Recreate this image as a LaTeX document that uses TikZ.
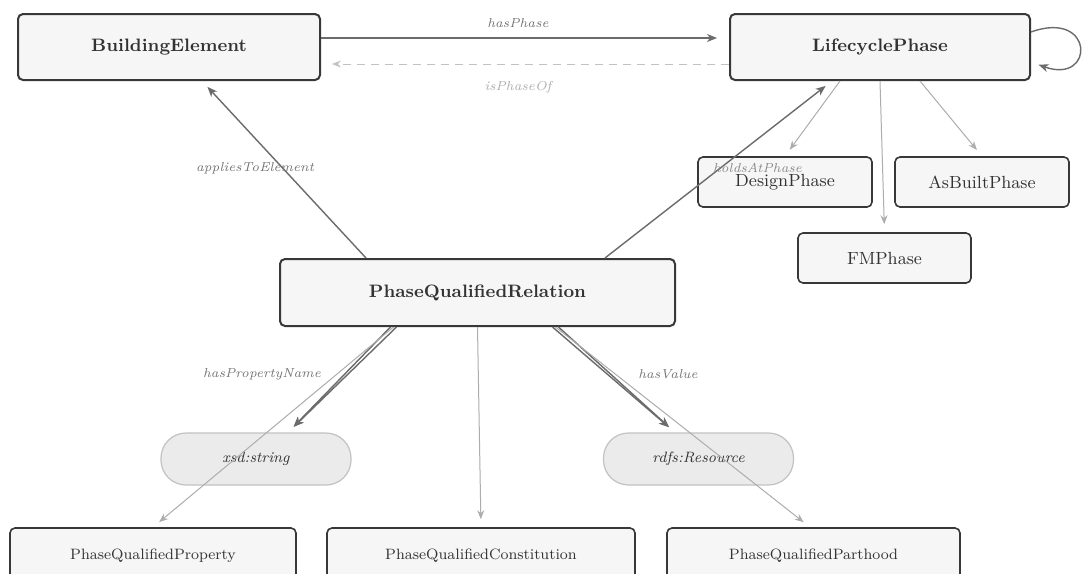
\documentclass[tikz,border=0pt]{standalone}
\usepackage{tikz}
\usetikzlibrary{arrows.meta, positioning, calc}
\definecolor{boxBorder}{gray}{0.22}
\definecolor{boxFill}{gray}{0.965}
\definecolor{mainText}{gray}{0.2}
\definecolor{edgeDark}{gray}{0.42}
\definecolor{edgeLight}{gray}{0.68}
\definecolor{labelGray}{gray}{0.45}
\definecolor{pillFill}{gray}{0.92}
\definecolor{pillBorder}{gray}{0.76}

\begin{document}
\begin{tikzpicture}[x=0.5pt, y=-0.5pt,
    mainbox/.style={draw=boxBorder, fill=boxFill, line width=1pt, rounded corners=2.5pt, inner sep=0pt,
        font=\fontsize{9}{11}\selectfont\bfseries, text=mainText},
    subbox/.style={draw=boxBorder, fill=boxFill, line width=0.8pt, rounded corners=2.5pt, inner sep=0pt,
        font=\fontsize{8.8}{10}\selectfont, text=mainText},
    pill/.style={draw=pillBorder, fill=pillFill, line width=0.6pt, rounded corners=12.5pt,
        minimum width=95pt, minimum height=26pt, font=\fontsize{7.5}{9}\selectfont\itshape, text=mainText},
    darkedge/.style={draw=edgeDark, line width=0.7pt, shorten >=4pt, -{Stealth[length=5pt, width=4pt, inset=1.5pt]}},
    lightedge/.style={draw=edgeLight, line width=0.5pt, shorten >=4pt, -{Stealth[length=4.5pt, width=3.5pt, inset=1.5pt]}},
    elabel/.style={font=\fontsize{6.5}{7.5}\selectfont\itshape, text=labelGray}
]
    \clip (0,0) rectangle (1084,574);
    \fill[white] (0,0) rectangle (1084,574);

    % top row
    \node[mainbox, minimum width=151pt, minimum height=33pt] (be) at (169,47) {BuildingElement};
    \node[mainbox, minimum width=150pt, minimum height=33pt] (lcp) at (880,47) {LifecyclePhase};

    % phases
    \node[subbox, minimum width=87pt, minimum height=25pt] (dp) at (785,182) {DesignPhase};
    \node[subbox, minimum width=87pt, minimum height=25pt] (ab) at (982,182) {AsBuiltPhase};
    \node[subbox, minimum width=86.5pt, minimum height=25pt] (fm) at (884.5,258) {FMPhase};

    % relation and literals
    \node[mainbox, minimum width=197.5pt, minimum height=33.5pt] (pqr) at (477.5,292.5) {PhaseQualifiedRelation};
    \node[pill] (str) at (256,459) {xsd:string};
    \node[pill] (res) at (698.5,459) {rdfs:Resource};

    % bottom row (cut by the frame)
    \node[subbox, minimum width=143pt, minimum height=28pt, font=\fontsize{7.5}{9}\selectfont] (pqp) at (153,556) {PhaseQualifiedProperty};
    \node[subbox, minimum width=154pt, minimum height=28pt, font=\fontsize{7.5}{9}\selectfont] (pqc) at (481,556) {PhaseQualifiedConstitution};
    \node[subbox, minimum width=146.5pt, minimum height=28pt, font=\fontsize{7.5}{9}\selectfont] (pqh) at (813.5,556) {PhaseQualifiedParthood};

    % hasPhase / isPhaseOf
    \draw[darkedge, shorten >=6pt] ([yshift=4.5pt]be.east) -- ([yshift=4.5pt]lcp.west);
    \draw[lightedge, draw=pillBorder, dashed, dash pattern=on 4pt off 3pt, shorten >=5.5pt] ([yshift=-8.5pt]lcp.west) -- ([yshift=-8.5pt]be.east);
    \draw[darkedge] ($(lcp.east)+(0,-15)$) .. controls ($(lcp.east)+(64,-38)$) and ($(lcp.east)+(64,38)$) .. ($(lcp.east)+(0,15)$);

    \draw[lightedge] ([xshift=-20pt]lcp.south) -- (dp.north);
    \draw[lightedge] (lcp.south) -- (fm.north);
    \draw[lightedge] ([xshift=20pt]lcp.south) -- (ab.north);

    \draw[darkedge] ([xshift=-55.75pt]pqr.north) -- ([xshift=16.5pt]be.south);
    \draw[darkedge] ([xshift=63.75pt]pqr.north) -- ([xshift=-24pt]lcp.south);

    % hasPropertyName, hasValue
    \draw[darkedge] ([xshift=-43.5pt]pqr.south) -- ([xshift=16pt]str.north);
    \draw[darkedge] ([xshift=-40.5pt]pqr.south) -- ([xshift=16pt]str.north);
    \draw[darkedge] ([xshift=37.5pt]pqr.south) -- ([xshift=-11.75pt]res.north);
    \draw[darkedge] ([xshift=40.5pt]pqr.south) -- ([xshift=-11.75pt]res.north);

    \draw[lightedge] ([xshift=-42pt]pqr.south) -- (pqp.north);
    \draw[lightedge] (pqr.south) -- (pqc.north);
    \draw[lightedge] ([xshift=39pt]pqr.south) -- ([xshift=-1.75pt]pqh.north);

    % edge labels
    \node[elabel] (lblPhase) at (518,23) {hasPhase};
    \node[elabel, text=edgeLight] (lblPhaseOf) at (518,87) {isPhaseOf};
    \node[elabel] (lblApplies) at (255,168) {appliesToElement};
    \node[elabel, text=edgeDark!80, anchor=west] (lblHolds) at (706,168) {holdsAtPhase};
    \node[elabel] (lblPropName) at (262,374) {hasPropertyName};
    \node[elabel] (lblValue) at (668,374) {hasValue};
\end{tikzpicture}
\end{document}
